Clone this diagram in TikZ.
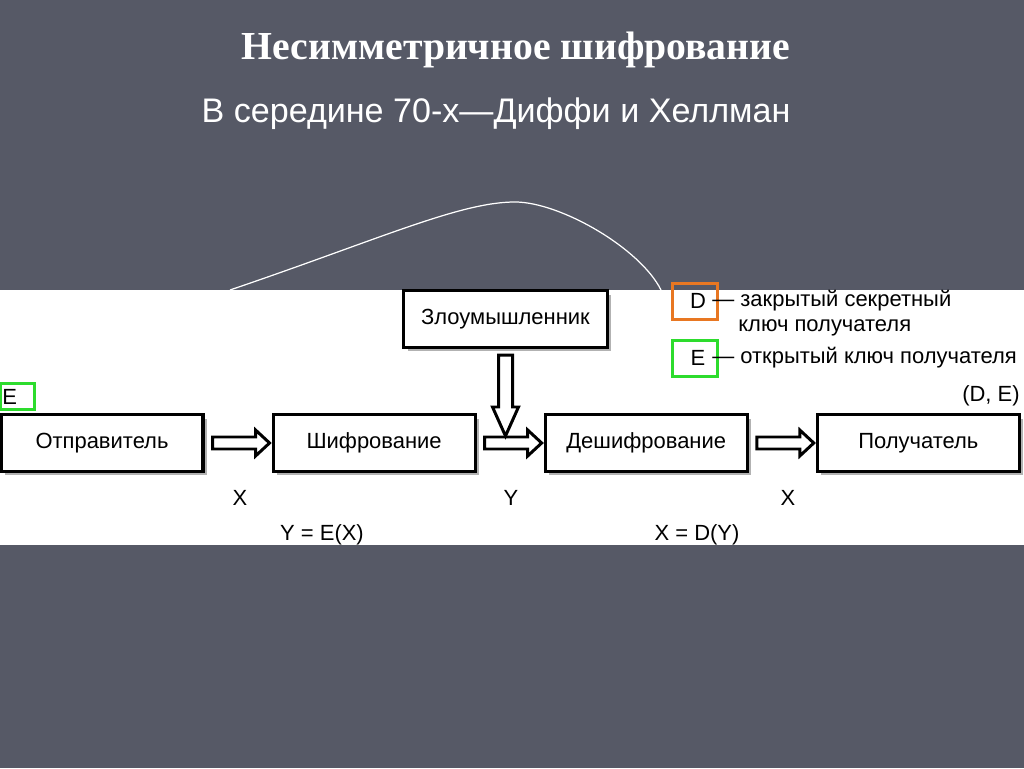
\documentclass[tikz,border=0pt]{standalone}
\usepackage{fontspec}
\setmainfont{Liberation Sans}
\newfontfamily\titlefont{Liberation Serif}
\usepackage{tikz}
\usetikzlibrary{calc, positioning, shadows}
\definecolor{slidebg}{RGB}{86, 89, 102}
\definecolor{keyorange}{RGB}{232, 119, 34}
\definecolor{keygreen}{RGB}{45, 220, 45}

% hollow block arrow from the east side of #1 to the west side of #2
\newcommand{\hollowarrow}[2]{%
  \draw[hollow] ($(#1.east)+(8,6)$) -- ($(#2.west)+(-16,6)$) -- ($(#2.west)+(-16,13)$)
    -- ($(#2.west)+(-2,0)$) -- ($(#2.west)+(-16,-13)$) -- ($(#2.west)+(-16,-6)$)
    -- ($(#1.east)+(8,-6)$) -- cycle;}

\begin{document}
\begin{tikzpicture}[x=0.02cm, y=0.02cm,
    block/.style={rectangle, draw=black, line width=1.8pt, fill=white, minimum width=4.04cm, minimum height=1.14cm,
      font=\fontsize{12.5}{15}\selectfont, drop shadow={shadow xshift=0.08cm, shadow yshift=-0.08cm, fill=black, opacity=0.3}},
    hollow/.style={draw=black, line width=1.7pt, fill=white, line join=miter},
    keybox/.style={rectangle, draw=#1, line width=1.8pt, minimum width=0.9cm, minimum height=0.72cm},
    lbl/.style={font=\fontsize{12.5}{15}\selectfont, text=black, inner sep=0pt}
]
\useasboundingbox (0,0) rectangle (1024,768);
\fill[slidebg] (0,0) rectangle (1024,768);

\node[text=white, font=\titlefont\bfseries\fontsize{22.6}{27}\selectfont] (title) at (516,718) {Несимметричное шифрование};
\node[text=white, font=\fontsize{19.4}{23}\selectfont] (subtitle) at (496,654) {В середине 70-х—Диффи и Хеллман};

\coordinate (arcstart) at (230,478);
\coordinate (arcend) at (661,478);
\draw[white, line width=0.7pt] (arcstart) .. controls (380,529) and (460,566) .. (515,566)
  .. controls (560,566) and (640,520) .. (arcend);

\fill[white] (0,223) rectangle (1024,478);

% main chain
\node[block] (send) at (102,325) {Отправитель};
\node[block, right=1.34cm of send] (enc) {Шифрование};
\node[block, right=1.34cm of enc] (dec) {Дешифрование};
\node[block, right=1.34cm of dec] (recv) {Получатель};
\node[block, minimum width=4.08cm] (spy) at (505.5,449) {Злоумышленник};

\hollowarrow{send}{enc}
\hollowarrow{enc}{dec}
\hollowarrow{dec}{recv}

\coordinate (tip) at ($(spy.south |- enc.east)+(0,7)$);
\draw[hollow] ($(spy.south)+(-7,-6)$) -- ($(tip)+(-7,29)$) -- ($(tip)+(-13,29)$) -- (tip)
  -- ($(tip)+(13,29)$) -- ($(tip)+(7,29)$) -- ($(spy.south)+(7,-6)$) -- cycle;

% keys
\node[keybox=keygreen, minimum width=0.68cm, minimum height=0.52cm] (ebox) at (17.5,371.5) {};
\node[lbl, anchor=west] (elbl) at (2,371) {E};

\node[keybox=keyorange] (dkey) at (695,466.5) {};
\node[lbl] (dname) at (698,467) {D};
\node[lbl, anchor=west] (dtext) at (712,467) {— закрытый секретный};
\node[lbl, anchor=west] (dtext2) at (738,440) {ключ получателя};
\node[keybox=keygreen] (ekey) at (695,409.5) {};
\node[lbl] (ename) at (698,410) {E};
\node[lbl, anchor=west] (etext) at (712,410) {— открытый ключ получателя};
\node[lbl, anchor=east] (pair) at (1020,372) {(D, E)};

% messages
\node[lbl] (x1) at (240,270) {X};
\node[lbl] (y1) at (511,270) {Y};
\node[lbl] (x2) at (788,270) {X};
\node[lbl] (encf) at (322,233) {Y = E(X)};
\node[lbl] (decf) at (697,233) {X = D(Y)};
\end{tikzpicture}
\end{document}
